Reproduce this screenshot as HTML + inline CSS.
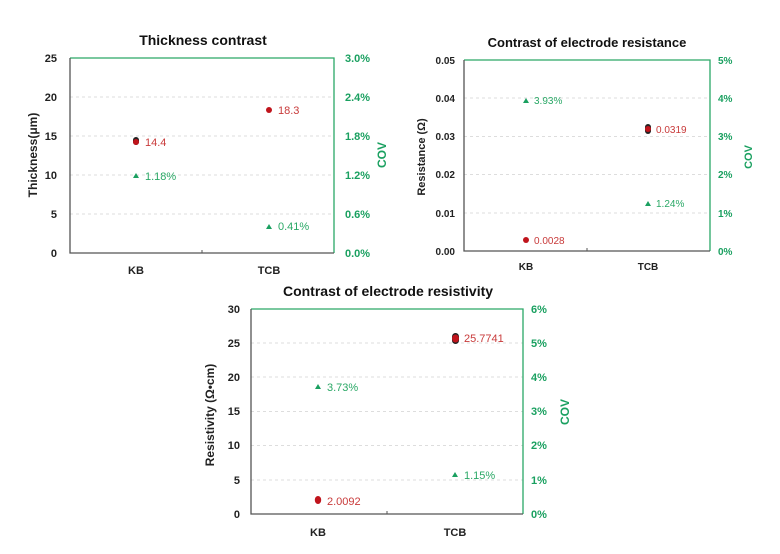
<!DOCTYPE html>
<html><head><style>body{margin:0;background:#fff}svg{display:block}text{font-family:"Liberation Sans",sans-serif}</style></head><body>
<svg width="780" height="554" xmlns="http://www.w3.org/2000/svg">
<g font-weight="bold" font-size="11">
<!-- Chart 1 -->
<text x="203" y="45" font-size="14" text-anchor="middle" fill="#111">Thickness contrast</text>
<g stroke="#ddd" stroke-dasharray="3,3"><line x1="70" x2="334" y1="97" y2="97"/><line x1="70" x2="334" y1="136" y2="136"/><line x1="70" x2="334" y1="175" y2="175"/><line x1="70" x2="334" y1="214" y2="214"/></g>
<path d="M70,58H334V253" fill="none" stroke="#2aa866" stroke-width="1.3"/>
<path d="M70,58V253H334" fill="none" stroke="#555" stroke-width="1.3"/>
<line x1="202" x2="202" y1="250" y2="253" stroke="#555"/>
<g text-anchor="end" fill="#222"><text x="57" y="62">25</text><text x="57" y="101">20</text><text x="57" y="140">15</text><text x="57" y="179">10</text><text x="57" y="218">5</text><text x="57" y="257">0</text></g>
<g fill="#1aa060"><text x="345" y="62">3.0%</text><text x="345" y="101">2.4%</text><text x="345" y="140">1.8%</text><text x="345" y="179">1.2%</text><text x="345" y="218">0.6%</text><text x="345" y="257">0.0%</text></g>
<text x="136" y="274" text-anchor="middle" fill="#222">KB</text><text x="269" y="274" text-anchor="middle" fill="#222">TCB</text>
<text transform="translate(37,155) rotate(-90)" text-anchor="middle" fill="#222" font-size="12">Thickness(μm)</text>
<text transform="translate(386,155) rotate(-90)" text-anchor="middle" fill="#1aa060" font-size="12">COV</text>
<!-- Chart 2 -->
<text x="587" y="47" font-size="13" text-anchor="middle" fill="#111">Contrast of electrode resistance</text>
<g stroke="#ddd" stroke-dasharray="3,3"><line x1="464" x2="710" y1="98" y2="98"/><line x1="464" x2="710" y1="136.5" y2="136.5"/><line x1="464" x2="710" y1="174.5" y2="174.5"/><line x1="464" x2="710" y1="213" y2="213"/></g>
<path d="M464,60H710V251" fill="none" stroke="#2aa866" stroke-width="1.3"/>
<path d="M464,60V251H710" fill="none" stroke="#555" stroke-width="1.3"/>
<line x1="587" x2="587" y1="248" y2="251" stroke="#555"/>
<g text-anchor="end" fill="#222" font-size="10"><text x="455" y="64">0.05</text><text x="455" y="102">0.04</text><text x="455" y="140">0.03</text><text x="455" y="178">0.02</text><text x="455" y="217">0.01</text><text x="455" y="255">0.00</text></g>
<g fill="#1aa060" font-size="10"><text x="718" y="64">5%</text><text x="718" y="102">4%</text><text x="718" y="140">3%</text><text x="718" y="178">2%</text><text x="718" y="217">1%</text><text x="718" y="255">0%</text></g>
<text x="526" y="270" text-anchor="middle" fill="#222" font-size="10">KB</text><text x="648" y="270" text-anchor="middle" fill="#222" font-size="10">TCB</text>
<text transform="translate(425,157) rotate(-90)" text-anchor="middle" fill="#222" font-size="11">Resistance (Ω)</text>
<text transform="translate(752,157) rotate(-90)" text-anchor="middle" fill="#1aa060" font-size="11">COV</text>
<!-- Chart 3 -->
<text x="388" y="296" font-size="14" text-anchor="middle" fill="#111">Contrast of electrode resistivity</text>
<g stroke="#ddd" stroke-dasharray="3,3"><line x1="251" x2="523" y1="343" y2="343"/><line x1="251" x2="523" y1="377" y2="377"/><line x1="251" x2="523" y1="411.5" y2="411.5"/><line x1="251" x2="523" y1="445.5" y2="445.5"/><line x1="251" x2="523" y1="480" y2="480"/></g>
<path d="M251,309H523V514" fill="none" stroke="#2aa866" stroke-width="1.3"/>
<path d="M251,309V514H523" fill="none" stroke="#555" stroke-width="1.3"/>
<line x1="387" x2="387" y1="511" y2="514" stroke="#555"/>
<g text-anchor="end" fill="#222"><text x="240" y="313">30</text><text x="240" y="347">25</text><text x="240" y="381">20</text><text x="240" y="415">15</text><text x="240" y="449">10</text><text x="240" y="484">5</text><text x="240" y="518">0</text></g>
<g fill="#1aa060"><text x="531" y="313">6%</text><text x="531" y="347">5%</text><text x="531" y="381">4%</text><text x="531" y="415">3%</text><text x="531" y="449">2%</text><text x="531" y="484">1%</text><text x="531" y="518">0%</text></g>
<text x="318" y="536" text-anchor="middle" fill="#222">KB</text><text x="455" y="536" text-anchor="middle" fill="#222">TCB</text>
<text transform="translate(214,415) rotate(-90)" text-anchor="middle" fill="#222" font-size="12">Resistivity (Ω•cm)</text>
<text transform="translate(569,412) rotate(-90)" text-anchor="middle" fill="#1aa060" font-size="12">COV</text>
</g>
<!-- data -->
<g fill="#c0141c">
<rect x="133" y="137" width="6" height="8" rx="3" fill="#222"/><circle cx="136" cy="142" r="3"/>
<circle cx="269" cy="110" r="3"/>
<circle cx="526" cy="240" r="3"/>
<rect x="645" y="124" width="6" height="10" rx="3" fill="#222"/><circle cx="648" cy="129" r="3"/>
<ellipse cx="318" cy="500" rx="3.2" ry="4"/>
<rect x="452" y="333" width="7" height="11" rx="3.5" fill="#222"/><ellipse cx="455.5" cy="338.5" rx="3.5" ry="4"/>
</g>
<g fill="#1aa060">
<path d="M136,173l3,5h-6z"/><path d="M269,224l3,5h-6z"/>
<path d="M526,98l3,5h-6z"/><path d="M648,201l3,5h-6z"/>
<path d="M318,384l3,5h-6z"/><path d="M455,472l3,5h-6z"/>
</g>
<g font-size="11">
<g fill="#c83a3a"><text x="145" y="146">14.4</text><text x="278" y="114">18.3</text><text x="534" y="244" font-size="10">0.0028</text><text x="656" y="133" font-size="10">0.0319</text><text x="327" y="505">2.0092</text><text x="464" y="342">25.7741</text></g>
<g fill="#2aa866"><text x="145" y="180">1.18%</text><text x="278" y="230">0.41%</text><text x="534" y="104" font-size="10">3.93%</text><text x="656" y="207" font-size="10">1.24%</text><text x="327" y="391">3.73%</text><text x="464" y="479">1.15%</text></g>
</g>
</svg>
</body></html>
